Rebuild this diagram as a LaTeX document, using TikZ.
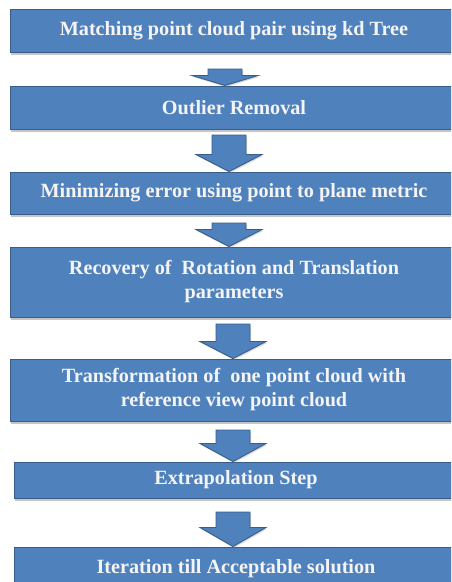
\documentclass[tikz,border=0pt]{standalone}
\usepackage{fontspec}
\setmainfont{Liberation Serif}
\usetikzlibrary{calc,shadows}
\definecolor{boxblue}{HTML}{4F81BD}
\definecolor{boxline}{HTML}{385D8A}
\definecolor{boxtext}{HTML}{F4F4F4}
\tikzset{
  stepbox/.style={rectangle, fill=boxblue, draw=boxline, line width=1pt,
    text=boxtext, font=\fontsize{20.2}{24}\selectfont\bfseries, align=center,
    inner sep=0pt,
    drop shadow={opacity=0.45, shadow xshift=1pt, shadow yshift=-2.5pt}},
  barr/.style={fill=boxblue, draw=boxline, line width=0.9pt, line join=miter,
    drop shadow={opacity=0.3, shadow xshift=1pt, shadow yshift=-1.5pt}}
}
\newcommand\blockarr[3]{%
  \path[barr] let \p1=(#1), \p2=(#2) in
    (\x1-17pt,\y1) -- (\x1+17pt,\y1) -- (\x1+17pt,\y2+#3) -- (\x1+33pt,\y2+#3)
    -- (\x1,\y2) -- (\x1-33pt,\y2+#3) -- (\x1-17pt,\y2+#3) -- cycle;}
\begin{document}
\begin{tikzpicture}[x=1pt,y=-1pt]
\clip (0,0) rectangle (451,582);
\fill[white] (0,0) rectangle (451,582);
\node[stepbox, minimum width=448pt, minimum height=43pt] (b1) at (234,30.5) {Matching point cloud pair using kd Tree};
\node[stepbox, minimum width=448pt, minimum height=43pt] (b2) at (234,107.5) {Outlier Removal};
\node[stepbox, minimum width=448pt, minimum height=42pt] (b3) at (234,193) {Minimizing error using point to plane metric};
\node[stepbox, minimum width=448pt, minimum height=70pt] (b4) at (234,282) {Recovery of \ Rotation and Translation\\parameters};
\node[stepbox, minimum width=448pt, minimum height=62pt] (b5) at (234,390) {Transformation of \ one point cloud with\\reference view point cloud};
\node[stepbox, minimum width=444pt, minimum height=36pt] (b6) at (236,480) {Extrapolation Step};
\node[stepbox, minimum width=444pt, minimum height=44pt] (b7) at (236,569) {\raisebox{5pt}{Iteration till Acceptable solution}};
\coordinate (s1) at (225,69);
\coordinate (s2) at (229,135);
\coordinate (s3) at (229,223);
\coordinate (s4) at (233,324);
\coordinate (s5) at (233,430);
\coordinate (s6) at (233,512);
\blockarr{s1}{s1 |- b2.north}{10pt}
\blockarr{s2}{s2 |- b3.north}{17pt}
\blockarr{s3}{s3 |- b4.north}{17pt}
\blockarr{s4}{s4 |- b5.north}{17pt}
\blockarr{s5}{s5 |- b6.north}{18pt}
\blockarr{s6}{s6 |- b7.north}{19pt}
\end{tikzpicture}
\end{document}
